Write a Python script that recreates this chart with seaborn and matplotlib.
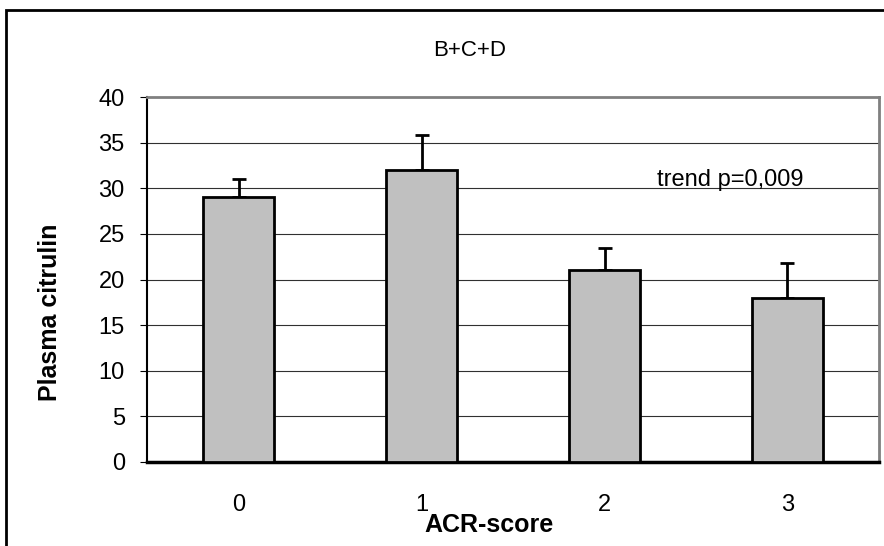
import numpy as np
import pandas as pd
import matplotlib
matplotlib.use("Agg")
import matplotlib.pyplot as plt
import seaborn as sns
from matplotlib.patches import Rectangle

# valores
categorias = ["0", "1", "2", "3"]
citrulina = [29, 32, 21, 18]
error_sup = [2.0, 3.8, 2.5, 3.8]

sns.set_theme(style="white", rc={'text.color': 'black', 'axes.labelcolor': 'black',
                                 'xtick.color': 'black', 'ytick.color': 'black'})
plt.rcParams['font.family'] = ['Liberation Sans', 'DejaVu Sans']

df = pd.DataFrame({'ACR': categorias, 'Citrulina': citrulina})

fig = plt.figure(figsize=(8.84, 5.46), dpi=100)
ax = fig.add_axes([147 / 884, 84 / 546, 732 / 884, 365 / 546])

sns.barplot(data=df, x='ACR', y='Citrulina', color='#C0C0C0', edgecolor='black',
            linewidth=2, width=0.39, saturation=1, ax=ax, zorder=3)

x = np.arange(len(categorias))
ax.errorbar(x, citrulina, yerr=[np.zeros(len(error_sup)), error_sup], fmt='none',
            ecolor='black', elinewidth=2, capsize=5, capthick=2, zorder=2)

ax.set_ylim(0, 40)
ax.set_xlim(-0.5, 3.5)
ax.set_yticks(range(0, 41, 5))
for yv in range(5, 40, 5):
    ax.axhline(yv, color='#303030', linewidth=0.8, zorder=1)

ax.set_xticks(x)
ax.set_xticklabels(categorias)
ax.set_xticks(np.arange(-0.5, 4, 1), minor=True)
ax.tick_params(axis='x', which='major', length=0, pad=23, labelsize=17)
ax.tick_params(axis='x', which='minor', length=6, width=0.8, color='black', direction='out')
ax.tick_params(axis='y', length=5, width=0.8, color='black', direction='out', labelsize=17, pad=11)
ax.tick_params(axis='both', bottom=True, left=True)

for lado in ['top', 'right']:
    ax.spines[lado].set_visible(True)
    ax.spines[lado].set_color('#808080')
    ax.spines[lado].set_linewidth(2)
ax.spines['left'].set_color('black')
ax.spines['left'].set_linewidth(1.5)
ax.spines['bottom'].set_color('black')
ax.spines['bottom'].set_linewidth(2.5)

ax.set_xlabel('ACR-score', fontsize=18, fontweight='bold')
ax.xaxis.set_label_coords((489 - 147) / 732, (462 - 525) / 365)
ax.xaxis.label.set_va('center')
ax.set_ylabel('Plasma citrulin', fontsize=18, fontweight='bold')
ax.yaxis.set_label_coords((50 - 147) / 732, (462 - 312) / 365)
ax.yaxis.label.set_va('center')
ax.text(2.686, 30.9, 'trend p=0,009', fontsize=17, ha='center', va='center')

fig.text(470 / 884, 1 - 51 / 546, 'B+C+D', fontsize=16, ha='center', va='center')
fig.patches.append(Rectangle((6 / 884, -0.1), 1.2, 0.1 + 1 - 10 / 546, transform=fig.transFigure,
                             fill=False, edgecolor='black', linewidth=2))

fig.savefig('out.png', dpi=100)
